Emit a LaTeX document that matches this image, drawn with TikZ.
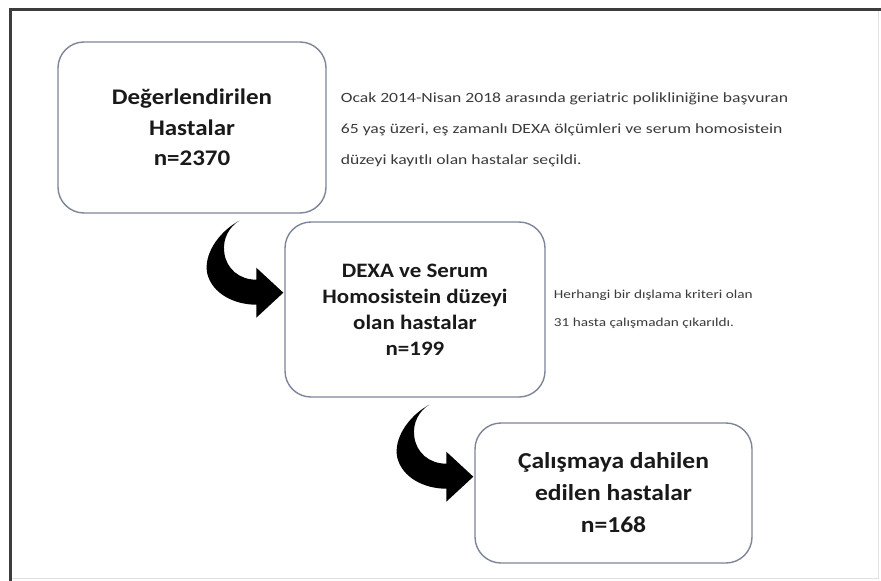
\documentclass[tikz,border=0pt]{standalone}
\usepackage{fontspec}
\setmainfont[FakeStretch=1.12]{Carlito}
\newfontfamily\notefont[FakeStretch=1.25]{Carlito}
\definecolor{framecol}{RGB}{60,60,60}
\definecolor{boxcol}{RGB}{125,133,152}
\definecolor{txtcol}{RGB}{25,25,25}
\tikzset{
  flowbox/.style={draw=boxcol, line width=1.4pt, rounded corners=26pt, fill=white, align=center, inner sep=0pt, text=txtcol},
  notetext/.style={anchor=west, align=left, inner sep=0pt, text=txtcol!85},
  bigarrow/.style={fill=black, draw=none}
}
\begin{document}
\begin{tikzpicture}[x=1pt,y=-1pt]
\useasboundingbox (0,0) rectangle (881,581);
\fill[white] (0,0) rectangle (881,581);
% frame
\draw[black!12, line width=1pt] (878,9.5) -- (878,578) -- (10,578);
\draw[framecol, line width=3pt] (10,581) -- (10,9.5) -- (881,9.5);

% boxes
\node[flowbox, minimum width=268pt, minimum height=171pt,
      font=\fontsize{22.3}{30.5}\selectfont\bfseries] (b1) at (192,127.5)
  {Değerlendirilen\\Hastalar\\n=2370};
\node[flowbox, minimum width=260pt, minimum height=175pt,
      font=\fontsize{20.5}{26}\selectfont\bfseries] (b2) at (415,309.5)
  {DEXA ve Serum\\Homosistein düzeyi\\olan hastalar\\n=199};
\node[flowbox, minimum width=277pt, minimum height=140pt,
      font=\fontsize{22.8}{32}\selectfont\bfseries] (b3) at (613.5,493)
  {Çalışmaya dahilen\\edilen hastalar\\n=168};

% side notes
\node[notetext, font=\notefont\fontsize{14.1}{31}\selectfont] (t1) at ([xshift=14pt,yshift=-2pt]b1.east)
  {Ocak 2014-Nisan 2018 arasında geriatric polikliniğine başvuran\\65 yaş üzeri, eş zamanlı DEXA ölçümleri ve serum homosistein\\düzeyi kayıtlı olan hastalar seçildi.};
\node[notetext, font=\notefont\fontsize{12.2}{28}\selectfont] (t2) at ([xshift=8pt]b2.east)
  {Herhangi bir dışlama kriteri olan\\31 hasta çalışmadan çıkarıldı.};

% curved arrows (origin: target west x, source south y)
\foreach \src/\tgt in {b1/b2, b2/b3}{
  \begin{scope}[shift={(\tgt.west |- \src.south)}]
    \fill[bigarrow] (-45,7) .. controls (-67,19) and (-81,42) .. (-77,60)
      .. controls (-72,80) and (-50,91) .. (-28,91)
      -- (-28,104) -- (-1,79) -- (-28,54) -- (-28,66)
      .. controls (-45,66) and (-58,55) .. (-60,39)
      .. controls (-62,25) and (-55,13) .. (-45,7) -- cycle;
  \end{scope}
}
\end{tikzpicture}
\end{document}
